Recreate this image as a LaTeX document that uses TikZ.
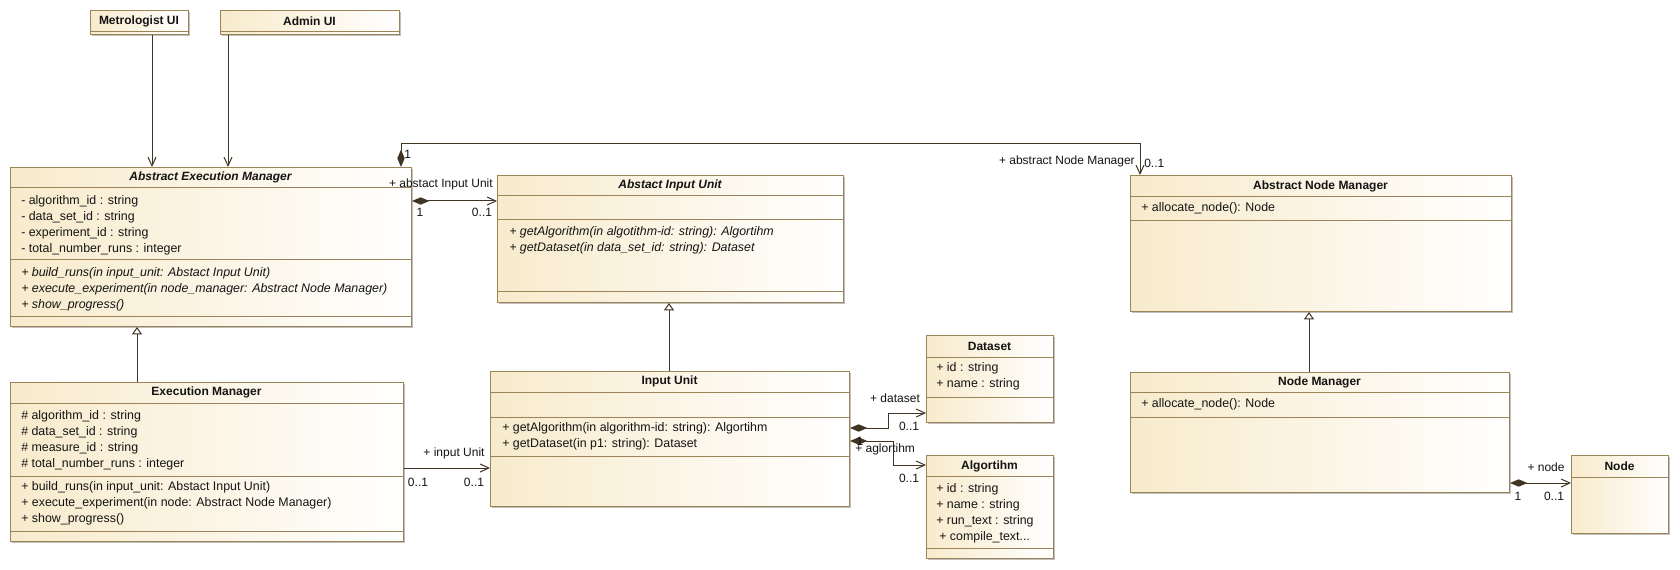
\documentclass[tikz,border=0pt]{standalone}
\usepackage{fontspec}
\setmainfont{Liberation Sans}
\usetikzlibrary{arrows.meta,calc,shadows}
\definecolor{bord}{RGB}{155,132,88}
\definecolor{fillL}{RGB}{248,235,204}
\definecolor{conn}{RGB}{64,52,36}
\definecolor{txt}{RGB}{20,20,20}
\newcommand\umlbox[5]{\node[cls,anchor=north west,minimum width={(#4-#2)*0.75pt},minimum height={(#5-#3)*0.75pt}] (#1) at (#2,#3) {};}
\newcommand\usep[2]{\draw[sepl] (#1.west |- 0,#2) -- (#1.east |- 0,#2);}
\tikzset{
  cls/.style={draw=bord, line width=0.75pt, left color=fillL, right color=white, inner sep=0pt,
    drop shadow={shadow xshift=1.3pt, shadow yshift=-1.3pt, opacity=0.25, fill=black}},
  sepl/.style={draw=bord, line width=0.75pt},
  ttl/.style={font=\fontsize{9pt}{10pt}\selectfont\bfseries, text=txt, inner sep=0pt},
  ttli/.style={font=\fontsize{9pt}{10pt}\selectfont\bfseries\itshape, text=txt, inner sep=0pt},
  attr/.style={font=\fontsize{9.3pt}{10pt}\selectfont, text=txt, inner sep=0pt, anchor=west},
  attri/.style={font=\fontsize{9.3pt}{10pt}\selectfont\itshape, text=txt, inner sep=0pt, anchor=west},
  lbl/.style={font=\fontsize{9pt}{10pt}\selectfont, text=txt, inner sep=0pt},
  assoc/.style={draw=conn, line width=0.75pt, -{Straight Barb[length=6.5pt,width=6pt]}},
  comp/.style={draw=conn, line width=0.75pt, {Diamond[length=13pt,width=5.5pt,fill=conn]}-{Straight Barb[length=6.5pt,width=6pt]}},
  gen/.style={draw=conn, line width=0.75pt, -{Triangle[open,length=5.5pt,width=7.5pt,fill=white]}},
}
\begin{document}
\begin{tikzpicture}[x=0.75pt,y=-0.75pt]
\useasboundingbox[fill=white] (0,0) rectangle (1680,570);

% --- boxes ---
\umlbox{mui}{90}{10}{188}{34}
\usep{mui}{31.5}
\node[ttl] (muit) at (139,21) {Metrologist UI};

\umlbox{aui}{220}{10}{399}{34}
\usep{aui}{31.5}
\node[ttl] (auit) at (309.5,21) {Admin UI};

\umlbox{aem}{10}{167}{411}{326}
\usep{aem}{188}\usep{aem}{260}\usep{aem}{316}
\node[ttli] (aemt) at (210.5,177.5) {Abstract Execution Manager};
\node[attr] (aema1) at (21,201) {- algorithm\_id : string};
\node[attr] (aema2) at (21,217) {- data\_set\_id : string};
\node[attr] (aema3) at (21,233) {- experiment\_id : string};
\node[attr] (aema4) at (21,249) {- total\_number\_runs : integer};
\node[attri] (aemo1) at (21,273) {+ build\_runs(in input\_unit: Abstact Input Unit)};
\node[attri] (aemo2) at (21,289) {+ execute\_experiment(in node\_manager: Abstract Node Manager)};
\node[attri] (aemo3) at (21,305) {+ show\_progress()};

\umlbox{aiu}{497}{175}{843}{302}
\usep{aiu}{196}\usep{aiu}{220}\usep{aiu}{291}
\node[ttli] (aiut) at (670,185.5) {Abstact Input Unit};
\node[attri] (aiuo1) at (509,232) {+ getAlgorithm(in algotithm-id: string): Algortihm};
\node[attri] (aiuo2) at (509,248) {+ getDataset(in data\_set\_id: string): Dataset};

\umlbox{anm}{1130}{175}{1511}{311}
\usep{anm}{197}\usep{anm}{221}
\node[ttl] (anmt) at (1320.5,186) {Abstract Node Manager};
\node[attr] (anmo1) at (1141,208) {+ allocate\_node(): Node};

\umlbox{em}{10}{382}{403}{541}
\usep{em}{403}\usep{em}{476}\usep{em}{531}
\node[ttl] (emt) at (206.5,392.5) {Execution Manager};
\node[attr] (ema1) at (21,416) {\# algorithm\_id : string};
\node[attr] (ema2) at (21,432) {\# data\_set\_id : string};
\node[attr] (ema3) at (21,448) {\# measure\_id : string};
\node[attr] (ema4) at (21,464) {\# total\_number\_runs : integer};
\node[attr] (emo1) at (21,487) {+ build\_runs(in input\_unit: Abstact Input Unit)};
\node[attr] (emo2) at (21,503) {+ execute\_experiment(in node: Abstract Node Manager)};
\node[attr] (emo3) at (21,519) {+ show\_progress()};

\umlbox{iu}{490}{371}{849}{506}
\usep{iu}{392}\usep{iu}{417}\usep{iu}{456}
\node[ttl] (iut) at (669.5,381.5) {Input Unit};
\node[attr] (iuo1) at (502,428) {+ getAlgorithm(in algorithm-id: string): Algortihm};
\node[attr] (iuo2) at (502,444) {+ getDataset(in p1: string): Dataset};

\umlbox{ds}{926}{335}{1053}{422}
\usep{ds}{357}\usep{ds}{397}
\node[ttl] (dst) at (989.5,346) {Dataset};
\node[attr] (dsa1) at (936,368) {+ id : string};
\node[attr] (dsa2) at (936,384) {+ name : string};

\umlbox{al}{926}{455}{1053}{558}
\usep{al}{476}\usep{al}{548}
\node[ttl] (alt) at (989.5,466) {Algortihm};
\node[attr] (ala1) at (936,489) {+ id : string};
\node[attr] (ala2) at (936,505) {+ name : string};
\node[attr] (ala3) at (936,521) {+ run\_text : string};
\node[attr] (ala4) at (939,537) {+ compile\_text...};

\umlbox{nm}{1130}{372}{1509}{492}
\usep{nm}{392}\usep{nm}{417}
\node[ttl] (nmt) at (1319.5,382.5) {Node Manager};
\node[attr] (nmo1) at (1141,404) {+ allocate\_node(): Node};

\umlbox{nd}{1571}{455}{1668}{533}
\usep{nd}{477}
\node[ttl] (ndt) at (1619.5,466) {Node};

% --- connector coordinates ---
\coordinate (x152) at (152,0);
\coordinate (x228) at (228,0);
\coordinate (k1) at (401,144);
\coordinate (k2) at (1140,144);
\coordinate (y201) at (0,201);
\coordinate (x137) at (137,0);
\coordinate (y468) at (0,468);
\coordinate (x669) at (669,0);
\coordinate (d1) at (888,428);
\coordinate (d2) at (888,413);
\coordinate (a1) at (893,441);
\coordinate (a2) at (893,465);
\coordinate (x1309) at (1309,0);
\coordinate (y483) at (0,483);

% --- connectors ---
\draw[assoc] (mui.south -| x152) -- (aem.north -| x152);
\draw[assoc] (aui.south -| x228) -- (aem.north -| x228);
\draw[comp] (aem.north -| k1) -- (k1) -- (k2) -- (anm.north -| k2);
\draw[comp] (aem.east |- y201) -- (aiu.west |- y201);
\draw[gen] (em.north -| x137) -- (aem.south -| x137);
\draw[assoc] (em.east |- y468) -- (iu.west |- y468);
\draw[gen] (iu.north -| x669) -- (aiu.south -| x669);
\draw[comp] (iu.east |- d1) -- (d1) -- (d2) -- (ds.west |- d2);
\draw[comp] (iu.east |- a1) -- (a1) -- (a2) -- (al.west |- a2);
\draw[gen] (nm.north -| x1309) -- (anm.south -| x1309);
\draw[comp] (nm.east |- y483) -- (nd.west |- y483);

% --- labels ---
\node[lbl,anchor=west] (l1) at (404,154) {1};
\node[lbl,anchor=east] (l2) at (493,184) {+ abstact Input Unit};
\node[lbl] (l3) at (420,212) {1};
\node[lbl] (l4) at (482,212) {0..1};
\node[lbl,anchor=east] (l5) at (1135,161) {+ abstract Node Manager};
\node[lbl,anchor=west] (l6) at (1144,163) {0..1};
\node[lbl] (l7) at (454,453) {+ input Unit};
\node[lbl] (l8) at (418,482) {0..1};
\node[lbl] (l9) at (474,482) {0..1};
\node[lbl] (l10) at (895,398) {+ dataset};
\node[lbl] (l11) at (909,426) {0..1};
\node[lbl] (l12) at (860,441) {1};
\node[lbl,anchor=west] (l13) at (855,449) {+ aglortihm};
\node[lbl] (l14) at (909,478) {0..1};
\node[lbl] (l15) at (1546,467) {+ node};
\node[lbl] (l16) at (1518,496) {1};
\node[lbl] (l17) at (1554,496) {0..1};
\end{tikzpicture}
\end{document}
